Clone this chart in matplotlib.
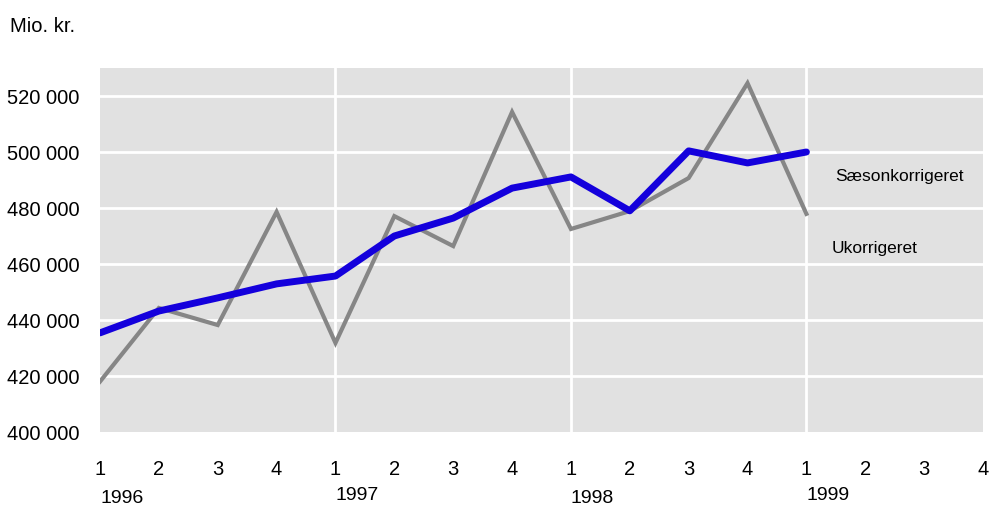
import numpy as np
import matplotlib
matplotlib.use('Agg')
import matplotlib.pyplot as plt
from matplotlib import font_manager as fm

navne = [f.name for f in fm.fontManager.ttflist]
if 'Liberation Sans Narrow' in navne:
    plt.rcParams['font.family'] = ['Liberation Sans Narrow', 'DejaVu Sans']
else:
    plt.rcParams['font.family'] = ['Liberation Sans', 'DejaVu Sans']

# kvartaler 1996K1 - 1999K1
kvartaler = ['1', '2', '3', '4'] * 4
aar = ['1996', '1997', '1998', '1999']
ukorrigeret = [418000, 444300, 438200, 478600, 431800, 477100, 466400, 514300,
               472500, 478900, 490700, 524600, 477900]
saesonkorr = [435400, 443200, 447900, 452900, 455700, 470000, 476400, 487100,
              491100, 479000, 500400, 496100, 500000]
yticks = [400000, 420000, 440000, 460000, 480000, 500000, 520000]

fig = plt.figure(figsize=(9.89, 5.12), dpi=100)
ax = fig.add_axes([100/989, 80/512, 883/989, 364/512])
ax.set_facecolor('#e1e1e1')
for s in ax.spines.values():
    s.set_visible(False)

x = np.arange(len(ukorrigeret))
ax.plot(x, ukorrigeret, color='#868686', lw=3, solid_joinstyle='miter', zorder=3)
ax.plot(x, saesonkorr, color='#1400dc', lw=5, solid_capstyle='round', zorder=4)

ax.set_xlim(0, 15)
ax.set_ylim(400000, 530000)
ax.set_yticks(yticks)
ax.set_yticklabels(['{:,}'.format(v).replace(',', ' ') for v in yticks])
ax.set_xticks(np.arange(16))
ax.set_xticklabels(kvartaler)
ax.tick_params(axis='y', length=0, pad=15, labelsize=14.5)
ax.tick_params(axis='x', length=0, pad=20, labelsize=14.5)

for v in yticks[1:]:
    ax.axhline(v, color='white', lw=2, zorder=1)
for v in [4, 8, 12]:
    ax.axvline(v, color='white', lw=2, zorder=1)

for i, a in enumerate(aar):
    ax.text(i * 4, -0.16 if i % 2 == 0 else -0.15, a, transform=ax.get_xaxis_transform(),
            ha='left', va='top', fontsize=14)

fig.text(10/989, 1 - 27/512, 'Mio. kr.', ha='left', va='center', fontsize=14.5)
ax.text(12.49, 491400, 'Sæsonkorrigeret', ha='left', va='center', fontsize=12.5)
ax.text(12.43, 465700, 'Ukorrigeret', ha='left', va='center', fontsize=12.5)

fig.savefig('out.png', dpi=100)
